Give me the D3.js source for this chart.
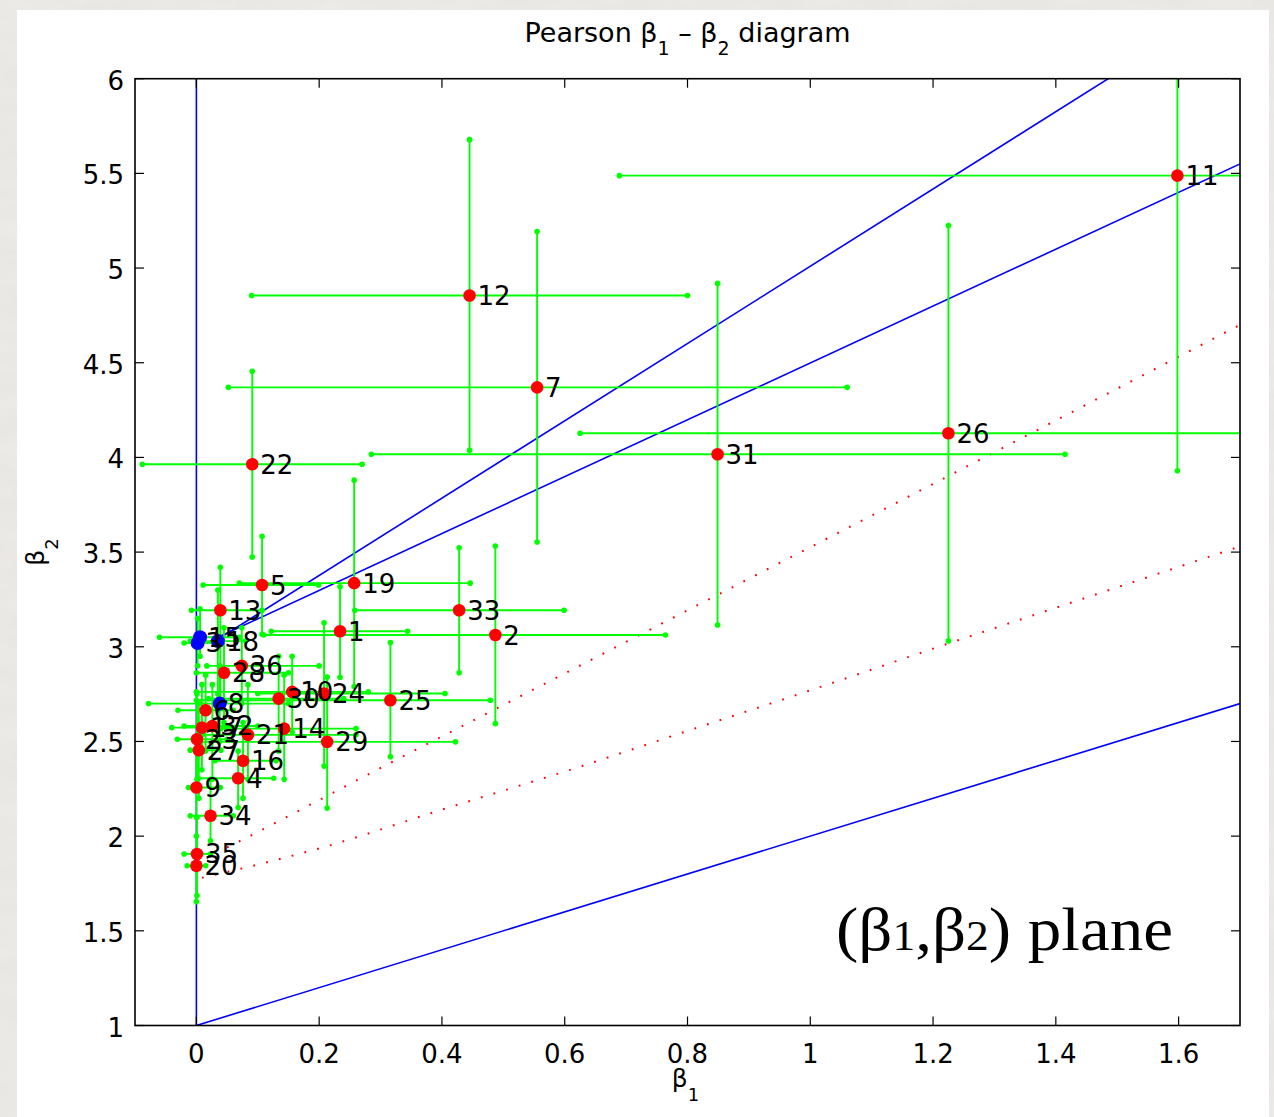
<!DOCTYPE html>
<html><head><meta charset="utf-8">
<script src="https://cdn.jsdelivr.net/npm/d3@7/dist/d3.min.js"></script>
<style>html,body{margin:0;padding:0;background:#e7e5e1;}svg{display:block;}</style>
</head><body>
<svg id="chart" width="1274" height="1117"></svg>
<script>
// ---------- data ----------
const pointLabels = ["1","2","3","4","5","6","7","8","9","10","11","12","13","14","15","16","17","18","19","20","21","22","23","24","25","26","27","28","29","30","31","32","33","34","35","36"];
const beta1 = [0.234,0.487,0.002,0.068,0.107,0.015,0.555,0.038,0.000,0.156,1.598,0.445,0.039,0.143,0.006,0.076,0.009,0.035,0.257,0.000,0.084,0.091,0.001,0.208,0.316,1.225,0.004,0.045,0.213,0.134,0.849,0.026,0.428,0.023,0.001,0.074];
const beta2 = [3.082,3.062,3.020,2.306,3.326,2.665,4.370,2.700,2.257,2.762,5.488,4.855,3.193,2.568,3.050,2.398,2.573,3.030,3.336,1.844,2.535,3.964,2.512,2.753,2.718,4.128,2.454,2.863,2.498,2.726,4.017,2.582,3.193,2.108,1.906,2.899];
const beta1Low  = [0.122,0.110,-0.020,0.003,0.011,-0.030,0.052,-0.078,-0.013,0.000,0.689,0.090,-0.008,0.040,-0.060,0.030,-0.040,-0.010,0.070,-0.015,0.010,-0.088,-0.031,0.100,0.000,0.625,-0.010,0.000,0.000,0.020,0.285,-0.020,0.258,-0.010,-0.020,0.017];
const beta1High = [0.344,0.764,0.030,0.126,0.199,0.060,1.060,0.150,0.039,0.280,1.900,0.800,0.107,0.260,0.070,0.130,0.060,0.080,0.446,0.015,0.260,0.270,0.050,0.405,0.479,1.900,0.040,0.150,0.422,0.240,1.415,0.100,0.599,0.060,0.023,0.200];
const beta2Low  = [2.839,2.594,2.900,2.151,3.066,2.450,3.553,2.500,2.100,2.550,3.930,4.038,2.700,2.300,2.950,2.200,2.350,2.750,2.790,1.654,2.300,3.474,2.300,2.370,2.419,3.031,2.200,2.600,2.148,2.450,3.115,2.300,2.863,1.976,1.686,2.700];
const beta2High = [3.317,3.532,3.150,2.450,3.584,2.850,5.193,2.900,2.450,2.950,6.200,5.678,3.420,2.850,3.200,2.600,2.800,3.300,3.880,2.000,2.800,4.455,2.750,3.127,3.022,5.225,2.700,3.100,2.840,2.950,4.919,2.800,3.523,2.300,2.100,3.100];
const blueIds = ["3","8","15","18"];

// boundary lines (beta1, beta2)
const boundaryVertical = [[0,1],[0,6]];
const boundaryLower    = [[0,1],[1.7,2.7]];
const gammaLine        = [[0.035,3.05],[1.7,5.55]];
const upperLine        = [[0.035,3.04],[1.5,6.03]];
const dottedLower = [[0.009,1.78],[0.1,1.85],[0.202,1.937],[0.4,2.14],[0.62,2.362],[0.805,2.561],[1.0,2.77],[1.2,2.99],[1.45,3.26],[1.7,3.53]];
const dottedUpper = [[0.05,1.94],[0.072,1.976],[0.309,2.375],[0.481,2.661],[0.805,3.201],[1.2,3.86],[1.7,4.70]];

const xTickValues = [0,0.2,0.4,0.6,0.8,1,1.2,1.4,1.6];
const yTickValues = [1,1.5,2,2.5,3,3.5,4,4.5,5,5.5,6];

// ---------- drawing ----------
const svg = d3.select("#chart");
const W = 1274, H = 1117;
const L = 135, R = 1240, T = 78.7, B = 1025.5;
const font = "'DejaVu Sans', Verdana, sans-serif";

const defs = svg.append("defs");
const f = defs.append("filter").attr("id","paper").attr("x",0).attr("y",0).attr("width","100%").attr("height","100%");
f.append("feTurbulence").attr("type","fractalNoise").attr("baseFrequency","0.02 0.05").attr("numOctaves",3).attr("seed",4).attr("result","n");
f.append("feColorMatrix").attr("in","n").attr("type","matrix")
  .attr("values","0 0 0 0 0.86  0 0 0 0 0.85  0 0 0 0 0.83  0 0 0 -1.1 0.75");
defs.append("clipPath").attr("id","plotclip").append("rect")
  .attr("x",L).attr("y",T).attr("width",R-L).attr("height",B-T);

svg.append("rect").attr("width",W).attr("height",H).attr("fill","#e9e7e3");
svg.append("rect").attr("width",W).attr("height",H).attr("filter","url(#paper)");
svg.append("rect").attr("x",17).attr("y",10).attr("width",1252).attr("height",H-10).attr("fill","#fff");

const x = d3.scaleLinear().domain([-0.1,1.7]).range([L,R]);
const y = d3.scaleLinear().domain([1,6]).range([B,T]);

const plot = svg.append("g").attr("clip-path","url(#plotclip)");
const line = d3.line().x(d=>x(d[0])).y(d=>y(d[1]));

// blue boundary lines
[boundaryVertical,boundaryLower,gammaLine,upperLine].forEach(p=>{
  plot.append("path").attr("d",line(p)).attr("fill","none").attr("stroke","#0000ff").attr("stroke-width",1.6);
});
// red dotted curves
[dottedLower,dottedUpper].forEach(p=>{
  plot.append("path").attr("d",d3.line().curve(d3.curveMonotoneX).x(d=>x(d[0])).y(d=>y(d[1]))(p))
    .attr("fill","none").attr("stroke","#ff0000").attr("stroke-width",2)
    .attr("stroke-dasharray","1.8 11.4");
});

const pts = pointLabels.map((l,i)=>({l,b1:beta1[i],b2:beta2[i],x0:beta1Low[i],x1:beta1High[i],y0:beta2Low[i],y1:beta2High[i]}));
const green = "#00ff00";
const bars = plot.append("g");
pts.forEach(p=>{
  bars.append("line").attr("x1",x(p.x0)).attr("x2",x(p.x1)).attr("y1",y(p.b2)).attr("y2",y(p.b2)).attr("stroke",green).attr("stroke-width",1.9);
  bars.append("line").attr("x1",x(p.b1)).attr("x2",x(p.b1)).attr("y1",y(p.y0)).attr("y2",y(p.y1)).attr("stroke",green).attr("stroke-width",1.9);
  [[p.x0,p.b2],[p.x1,p.b2],[p.b1,p.y0],[p.b1,p.y1]].forEach(e=>{
    bars.append("circle").attr("cx",x(e[0])).attr("cy",y(e[1])).attr("r",2.8).attr("fill",green);
  });
});
// markers
plot.append("g").selectAll("circle").data(pts).join("circle")
  .attr("cx",d=>x(d.b1)).attr("cy",d=>y(d.b2))
  .attr("r",d=>blueIds.includes(d.l)?7:6.3)
  .attr("fill",d=>blueIds.includes(d.l)?"#0000ff":"#ff0000");
// labels
svg.append("g").selectAll("text").data(pts).join("text")
  .attr("x",d=>x(d.b1)+8).attr("y",d=>y(d.b2)+9.5)
  .attr("font-family",font).attr("font-size",26).attr("fill","#000")
  .text(d=>d.l);

// frame & ticks
const ax = svg.append("g").attr("stroke","#000");
ax.append("rect").attr("x",L).attr("y",T).attr("width",R-L).attr("height",B-T).attr("fill","none").attr("stroke-width",1.6);
xTickValues.forEach(v=>{
  ax.append("line").attr("x1",x(v)).attr("x2",x(v)).attr("y1",B).attr("y2",B-9).attr("stroke-width",1.2);
  ax.append("line").attr("x1",x(v)).attr("x2",x(v)).attr("y1",T).attr("y2",T+9).attr("stroke-width",1.2);
});
yTickValues.forEach(v=>{
  ax.append("line").attr("x1",L).attr("x2",L+9).attr("y1",y(v)).attr("y2",y(v)).attr("stroke-width",1.2);
  ax.append("line").attr("x1",R).attr("x2",R-9).attr("y1",y(v)).attr("y2",y(v)).attr("stroke-width",1.2);
});
svg.append("g").selectAll("text").data(xTickValues).join("text")
  .attr("x",d=>x(d)).attr("y",1063).attr("text-anchor","middle")
  .attr("font-family",font).attr("font-size",26).attr("fill","#000").text(d=>d3.format("~g")(d));
svg.append("g").selectAll("text").data(yTickValues).join("text")
  .attr("x",124).attr("y",d=>y(d)+11).attr("text-anchor","end")
  .attr("font-family",font).attr("font-size",26).attr("fill","#000").text(d=>d3.format("~g")(d));

// title
const title = svg.append("text").attr("x",(L+R)/2).attr("y",42).attr("text-anchor","middle")
  .attr("font-family",font).attr("font-size",27).attr("fill","#000");
title.append("tspan").text("Pearson β");
title.append("tspan").attr("font-size",19).attr("dy",13).text("1");
title.append("tspan").attr("dy",-13).text(" – β");
title.append("tspan").attr("font-size",19).attr("dy",13).text("2");
title.append("tspan").attr("dy",-13).text(" diagram");

// axis labels
const xl = svg.append("text").attr("x",x(0.8)-2).attr("y",1087).attr("text-anchor","middle")
  .attr("font-family",font).attr("font-size",25).attr("fill","#000");
xl.append("tspan").text("β");
xl.append("tspan").attr("font-size",18).attr("dy",14).text("1");
const yl = svg.append("text").attr("transform","translate(44,552) rotate(-90)").attr("text-anchor","middle")
  .attr("font-family",font).attr("font-size",25).attr("fill","#000");
yl.append("tspan").text("β");
yl.append("tspan").attr("font-size",18).attr("dy",14).text("2");

// annotation
const ann = svg.append("text").attr("x",836).attr("y",950)
  .attr("font-family","'Liberation Serif', 'DejaVu Serif', serif").attr("font-size",62).attr("fill","#000")
  .attr("textLength",337).attr("lengthAdjust","spacingAndGlyphs");
ann.append("tspan").attr("fill","#000").text("(β");
ann.append("tspan").attr("fill","#000").attr("font-size",42).text("1");
ann.append("tspan").attr("fill","#000").text(",β");
ann.append("tspan").attr("fill","#000").attr("font-size",42).text("2");
ann.append("tspan").attr("fill","#000").text(") plane");
</script>
</body></html>
